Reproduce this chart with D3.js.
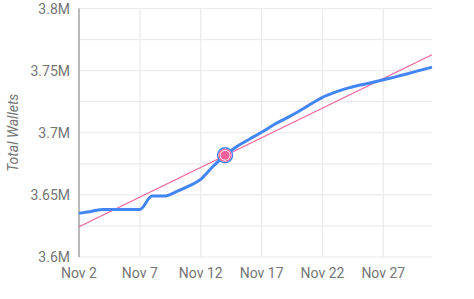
<!DOCTYPE html>
<html>
<head>
<meta charset="utf-8">
<script src="https://cdn.jsdelivr.net/npm/d3@7"></script>
<style>
  body { margin: 0; background: #fff; }
  text { font-family: Roboto, "Noto Sans", sans-serif; }
  .tick-label { fill: #757575; font-size: 14px; }
  .axis-title { fill: #757575; font-size: 14px; font-style: italic; }
</style>
</head>
<body>
<div id="chart"></div>
<script>
// daily wallet counts, Nov 2 - Dec 1 (millions)
let startDay = "2021-11-02";
let wallets = [3.6351, 3.6367, 3.6383, 3.6383, 3.6383, 3.6383, 3.6490, 3.6490,
  3.6526, 3.6570, 3.6625, 3.6728, 3.6819, 3.6892, 3.6948, 3.7004, 3.7064,
  3.7116, 3.7169, 3.7229, 3.7285, 3.7325, 3.7357, 3.7382, 3.7403, 3.7427,
  3.7450, 3.7475, 3.7502, 3.7528];
// trend line ends (first day, last day)
let trend = [3.6243, 3.7628];
// highlighted day
let markerIndex = 12;

let yTicks = [3.6, 3.65, 3.7, 3.75, 3.8];
let yGrid = [3.6, 3.625, 3.65, 3.675, 3.7, 3.725, 3.75, 3.775, 3.8];
let xTickDays = [2, 7, 12, 17, 22, 27];

let w = 474, h = 299;
let m = {left: 79, right: 432, top: 8.5, bottom: 257};

let svg = d3.select('#chart')
    .append('svg')
    .attr('width', w)
    .attr('height', h)

let day0 = new Date(startDay + "T00:00:00");
let dates = wallets.map((d, i) => d3.timeDay.offset(day0, i));

let x = d3.scaleTime()
    .domain([dates[0], dates[dates.length - 1]])
    .range([m.left, m.right]);
let y = d3.scaleLinear()
    .domain([3.6, 3.8])
    .range([m.bottom, m.top]);

// horizontal grid
svg.selectAll('.hgrid')
    .data(yGrid)
    .enter()
    .append('line')
    .attr('class', 'hgrid')
    .attr('x1', m.left)
    .attr('x2', m.right)
    .attr('y1', d => y(d))
    .attr('y2', d => y(d))
    .attr('stroke', '#ebebeb')
    .attr('stroke-width', 1.2)

let xTickDates = xTickDays.map(d => new Date(2021, 10, d));

// vertical grid
svg.selectAll('.vgrid')
    .data(xTickDates.slice(1))
    .enter()
    .append('line')
    .attr('class', 'vgrid')
    .attr('x1', d => x(d))
    .attr('x2', d => x(d))
    .attr('y1', m.top)
    .attr('y2', m.bottom)
    .attr('stroke', '#ebebeb')
    .attr('stroke-width', 1.2)

// left axis line
svg.append('line')
    .attr('x1', m.left)
    .attr('x2', m.left)
    .attr('y1', m.top)
    .attr('y2', m.bottom)
    .attr('stroke', '#8a8a8a')
    .attr('stroke-width', 1.2)

svg.selectAll('.ylab')
    .data(yTicks)
    .enter()
    .append('text')
    .attr('class', 'tick-label ylab')
    .attr('x', m.left - 9)
    .attr('y', d => y(d) + 5)
    .attr('text-anchor', 'end')
    .text(d => d3.format('.3~')(d) + 'M')

svg.selectAll('.xlab')
    .data(xTickDates)
    .enter()
    .append('text')
    .attr('class', 'tick-label xlab')
    .attr('x', d => x(d))
    .attr('y', 278)
    .attr('text-anchor', 'middle')
    .text(d => d3.timeFormat('%b %-d')(d))

svg.append('text')
    .attr('class', 'axis-title')
    .attr('transform', 'translate(18,' + (m.top + m.bottom) / 2 + ') rotate(-90)')
    .attr('text-anchor', 'middle')
    .text('Total Wallets')

// trend line
svg.append('path')
    .datum(trend)
    .attr('d', d3.line()
        .x((d, i) => x(i == 0 ? dates[0] : dates[dates.length - 1]))
        .y(d => y(d)))
    .attr('stroke', '#f0609a')
    .attr('stroke-width', 1.1)
    .attr('fill', 'none')

// wallets line
svg.append('path')
    .datum(wallets)
    .attr('d', d3.line()
        .x((d, i) => x(dates[i]))
        .y(d => y(d))
        .curve(d3.curveMonotoneX))
    .attr('stroke', '#4285f4')
    .attr('stroke-width', 3)
    .attr('stroke-linejoin', 'round')
    .attr('fill', 'none')

// highlighted point
let mx = x(dates[markerIndex]), my = y(wallets[markerIndex]);
svg.append('circle')
    .attr('cx', mx).attr('cy', my).attr('r', 7.5)
    .attr('fill', '#fff')
    .attr('stroke', '#4285f4')
    .attr('stroke-width', 1.5)
svg.append('circle')
    .attr('cx', mx).attr('cy', my).attr('r', 6)
    .attr('fill', '#fff')
    .attr('stroke', '#f0609a')
    .attr('stroke-width', 1.2)
svg.append('circle')
    .attr('cx', mx).attr('cy', my).attr('r', 4.6)
    .attr('fill', '#f0609a')
</script>
</body>
</html>
